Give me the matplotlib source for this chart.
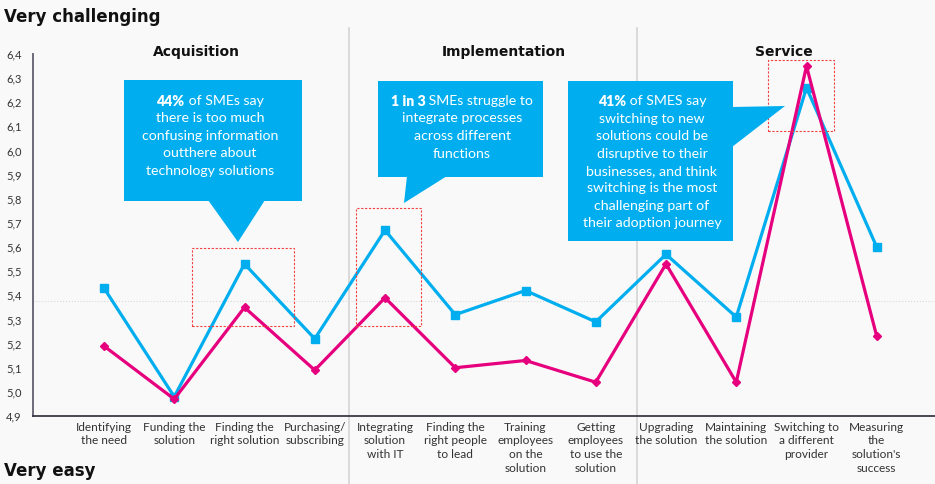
import matplotlib
matplotlib.use('Agg')
import matplotlib.pyplot as plt
from matplotlib.patches import Rectangle, Polygon
import numpy as np

plt.rcParams['font.family'] = ['Lato', 'DejaVu Sans']
TITLE_FONT = ['DejaVu Sans']

# data
stages = ['Identifying\nthe need', 'Funding the\nsolution', 'Finding the\nright solution',
          'Purchasing/\nsubscribing', 'Integrating\nsolution\nwith IT', 'Finding the\nright people\nto lead',
          'Training\nemployees\non the\nsolution', 'Getting\nemployees\nto use the\nsolution',
          'Upgrading\nthe solution', 'Maintaining\nthe solution', 'Switching to\na different\nprovider',
          'Measuring\nthe\nsolution\'s\nsuccess']
blue_vals = [5.43, 4.98, 5.53, 5.22, 5.67, 5.32, 5.42, 5.29, 5.57, 5.31, 6.26, 5.60]
pink_vals = [5.19, 4.97, 5.35, 5.09, 5.39, 5.10, 5.13, 5.04, 5.53, 5.04, 6.35, 5.23]
avg_line = 5.375
yticks = [4.9, 5.0, 5.1, 5.2, 5.3, 5.4, 5.5, 5.6, 5.7, 5.8, 5.9, 6.0, 6.1, 6.2, 6.3, 6.4]
sections = ['Acquisition', 'Implementation', 'Service']

BLUE = '#00AEEF'
PINK = '#E6007E'
BG = '#F9F9F9'
W, H = 935, 484

fig = plt.figure(figsize=(W / 100, H / 100), dpi=100, facecolor=BG)

def fx(px):
    return px / W

def fy(py):
    return 1 - py / H

ax = fig.add_axes([fx(33), fy(416), fx(935) - fx(33), fy(54) - fy(416)])
ax.patch.set_visible(False)

x = np.arange(len(stages))
ax.axhline(avg_line, color='#d8d8d8', lw=0.8, ls=':', zorder=1)
ax.plot(x, blue_vals, color=BLUE, lw=2.3, marker='s', ms=6, zorder=3)
ax.plot(x, pink_vals, color=PINK, lw=2.3, marker='D', ms=4, zorder=4)

ax.set_xlim((33 - 104) / 70.25, (935 - 104) / 70.25)
ax.set_ylim(4.9, 6.4)
ax.set_yticks(yticks)
ax.set_yticklabels([f'{v:.1f}'.replace('.', ',') for v in yticks], fontsize=8, color='#333333')
ax.set_xticks(x)
ax.set_xticklabels(stages, fontsize=8.6, color='#333333', linespacing=1.32)
ax.tick_params(length=0, pad=4)
ax.tick_params(axis='y', pad=8)
for s in ['top', 'right']:
    ax.spines[s].set_visible(False)
ax.spines['left'].set_color('#6b6b7b')
ax.spines['left'].set_linewidth(1.4)
ax.spines['bottom'].set_color('#2b2b3b')
ax.spines['bottom'].set_linewidth(1.2)

# section dividers
for px in [349, 637]:
    fig.add_artist(plt.Line2D([fx(px), fx(px)], [fy(28), fy(484)], color='#d4d4d4', lw=1.2, zorder=-1))

for name, cx in zip(sections, [196, 504, 784]):
    fig.text(fx(cx), fy(52), name, ha='center', va='center', fontsize=10, weight='bold',
             family=TITLE_FONT, color='#111111')

fig.text(fx(4), fy(17), 'Very challenging', ha='left', va='center', fontsize=12, weight='bold',
         family=TITLE_FONT, color='#111111')
fig.text(fx(4), fy(471), 'Very easy', ha='left', va='center', fontsize=12, weight='bold',
         family=TITLE_FONT, color='#111111')

# red highlight boxes
for (x0, y0, x1, y1) in [(192, 248, 294, 326), (356, 208, 421, 326), (768, 60, 834, 131)]:
    fig.add_artist(Rectangle((fx(x0), fy(y1)), fx(x1) - fx(x0), fy(y0) - fy(y1), fill=False,
                             ec='#f04040', lw=0.8, ls=(0, (2, 1.5)), zorder=5))

# callouts
def callout(box, tri):
    x0, y0, x1, y1 = box
    fig.add_artist(Rectangle((fx(x0), fy(y1)), fx(x1) - fx(x0), fy(y0) - fy(y1), fc=BLUE, ec='none', zorder=6))
    fig.add_artist(Polygon([(fx(a), fy(b)) for a, b in tri], closed=True, fc=BLUE, ec='none', zorder=6))

callout((124, 80, 302, 201), [(208, 200), (265, 200), (238, 242)])
callout((378, 81, 543, 177), [(407, 176), (447, 176), (404, 203)])
callout((568, 81, 733, 241), [(732, 107), (785, 106), (732, 147)])

renderer = fig.canvas.get_renderer()

def line(cx, py, text, bold=None):
    kw = dict(va='center', fontsize=10.2, color='white', zorder=7)
    if bold is None:
        fig.text(fx(cx), fy(py), text, ha='center', **kw)
        return
    tb = fig.text(0, fy(py), bold, ha='left', weight='heavy', **kw)
    tr = fig.text(0, fy(py), ' ' + text, ha='left', **kw)
    wb = tb.get_window_extent(renderer).width
    wr = tr.get_window_extent(renderer).width
    left = cx - (wb + wr) / 2
    tb.set_x(fx(left))
    tr.set_x(fx(left + wb))

line(210, 101, 'of SMEs say', bold='44%')
for i, t in enumerate(['there is too much', 'confusing information', 'outthere about',
                       'technology solutions']):
    line(210, 118.5 + 17.4 * i, t)

line(462, 101, 'SMEs struggle to', bold='1 in 3')
for i, t in enumerate(['integrate processes', 'across different', 'functions']):
    line(462, 118.5 + 17.6 * i, t)

line(652, 101, 'of SMES say', bold='41%')
for i, t in enumerate(['switching to new', 'solutions could be', 'disruptive to their',
                       'businesses, and think', 'switching is the most',
                       'challenging part of', 'their adoption journey']):
    line(652, 118.7 + 17.4 * i, t)

fig.savefig('out.png', dpi=100, facecolor=BG)
